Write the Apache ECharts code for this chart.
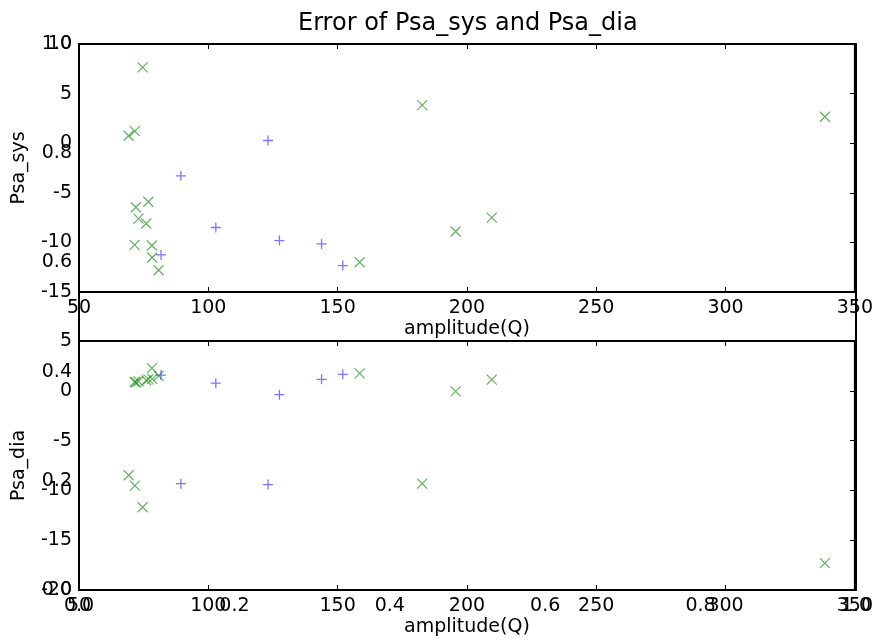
<!DOCTYPE html>
<html>
<head>
<meta charset="utf-8">
<script src="https://cdn.jsdelivr.net/npm/echarts@6/dist/echarts.min.js"></script>
<style>html,body{margin:0;padding:0;background:#fff;}#c{width:876px;height:642px;}</style>
</head>
<body>
<div id="c"></div>
<script>
// Data
const blueAmp = [81.7, 89.4, 102.9, 123.1, 127.5, 143.8, 152.0];
const blueSys = [-11.26, -3.29, -8.5, 0.27, -9.82, -10.15, -12.34];
const blueDia = [1.58, -9.32, 0.77, -9.42, -0.39, 1.15, 1.65];
const greenAmp = [69.2, 71.5, 71.6, 72.0, 73.0, 74.6, 76.0, 76.8, 78.2, 78.3, 80.8, 158.5, 182.7, 195.6, 209.6, 338.4];
const greenSys = [0.75, -10.25, 1.22, -6.45, -7.6, 7.64, -8.1, -5.91, -10.32, -11.53, -12.8, -12.0, 3.84, -8.9, -7.5, 2.66];
const greenDia = [-8.48, 0.9, -9.52, 0.85, 0.95, -11.7, 1.05, 1.15, 2.28, 1.2, 1.5, 1.75, -9.32, -0.06, 1.12, -17.3];
const ampRange = [50, 350];
const sysRange = [-15, 10];
const diaRange = [-20, 5];
const bgRange = [0, 1];

const zip = (a, b) => a.map((v, i) => [v, b[i]]);
const FONT = 'DejaVu Sans';
const FS = 19;
const plusPath = 'path://M5,0 L5,10 M0,5 L10,5';
const crossPath = 'path://M0,0 L10,10 M10,0 L0,10';
const blueStyle = {color: 'transparent', borderColor: 'rgba(30,30,255,0.75)', borderWidth: 1.3};
const greenStyle = {color: 'transparent', borderColor: 'rgba(0,128,0,0.75)', borderWidth: 1.3};

function labelAxis(extra) {
  return Object.assign({
    type: 'value',
    splitLine: {show: false},
    axisLine: {show: false, onZero: false},
    axisTick: {show: false},
    axisLabel: {color: '#000', fontFamily: FONT, fontSize: FS, margin: 7}
  }, extra);
}
function tickAxis(extra) {
  return Object.assign({
    type: 'value',
    splitLine: {show: false},
    axisLine: {show: false, onZero: false},
    axisTick: {show: true, inside: true, length: 5, lineStyle: {color: '#000', width: 1}},
    axisLabel: {show: false}
  }, extra);
}
const nameStyle = {color: '#000', fontFamily: FONT, fontSize: FS};

const chart = echarts.init(document.getElementById('c'), null, {renderer: 'canvas'});
chart.setOption({
  animation: false,
  backgroundColor: '#fff',
  title: {
    text: 'Error of Psa_sys and Psa_dia',
    left: 293, top: 7,
    textStyle: {color: '#000', fontFamily: FONT, fontSize: 24, fontWeight: 'normal'}
  },
  grid: [
    {left: 79, right: 20, top: 44, bottom: 52, show: true, backgroundColor: '#fff', borderColor: '#000', borderWidth: 2},
    {left: 79, right: 20, top: 44, height: 248, show: true, backgroundColor: '#fff', borderColor: '#000', borderWidth: 2},
    {left: 79, right: 20, top: 341, height: 249, show: true, backgroundColor: '#fff', borderColor: '#000', borderWidth: 2}
  ],
  xAxis: [
    labelAxis({gridIndex: 0, min: bgRange[0], max: bgRange[1], interval: 0.2,
      axisLabel: {color: '#000', fontFamily: FONT, fontSize: FS, margin: 7, formatter: v => v.toFixed(1)}}),
    labelAxis({gridIndex: 1, position: 'bottom', min: ampRange[0], max: ampRange[1], interval: 50,
      axisTick: {show: true, inside: true, length: 5, lineStyle: {color: '#000'}},
      name: 'amplitude(Q)', nameLocation: 'middle', nameGap: 28, nameTextStyle: nameStyle}),
    tickAxis({gridIndex: 1, position: 'top', min: ampRange[0], max: ampRange[1], interval: 50}),
    labelAxis({gridIndex: 2, position: 'bottom', min: ampRange[0], max: ampRange[1], interval: 50,
      axisTick: {show: true, inside: true, length: 5, lineStyle: {color: '#000'}},
      name: 'amplitude(Q)', nameLocation: 'middle', nameGap: 28, nameTextStyle: nameStyle}),
    tickAxis({gridIndex: 2, position: 'top', min: ampRange[0], max: ampRange[1], interval: 50})
  ],
  yAxis: [
    labelAxis({gridIndex: 0, min: bgRange[0], max: bgRange[1], interval: 0.2,
      axisLabel: {color: '#000', fontFamily: FONT, fontSize: FS, margin: 7, formatter: v => v.toFixed(1)}}),
    labelAxis({gridIndex: 1, position: 'left', min: sysRange[0], max: sysRange[1], interval: 5,
      name: 'Psa_sys', nameLocation: 'middle', nameGap: 50, nameTextStyle: nameStyle}),
    tickAxis({gridIndex: 1, position: 'right', min: sysRange[0], max: sysRange[1], interval: 5}),
    labelAxis({gridIndex: 2, position: 'left', min: diaRange[0], max: diaRange[1], interval: 5,
      name: 'Psa_dia', nameLocation: 'middle', nameGap: 50, nameTextStyle: nameStyle}),
    tickAxis({gridIndex: 2, position: 'right', min: diaRange[0], max: diaRange[1], interval: 5})
  ],
  series: [
    {type: 'scatter', xAxisIndex: 1, yAxisIndex: 1, symbol: plusPath, symbolSize: 10, itemStyle: blueStyle, data: zip(blueAmp, blueSys)},
    {type: 'scatter', xAxisIndex: 1, yAxisIndex: 1, symbol: crossPath, symbolSize: 10, itemStyle: greenStyle, data: zip(greenAmp, greenSys)},
    {type: 'scatter', xAxisIndex: 3, yAxisIndex: 3, symbol: plusPath, symbolSize: 10, itemStyle: blueStyle, data: zip(blueAmp, blueDia)},
    {type: 'scatter', xAxisIndex: 3, yAxisIndex: 3, symbol: crossPath, symbolSize: 10, itemStyle: greenStyle, data: zip(greenAmp, greenDia)}
  ]
});
</script>
</body>
</html>
